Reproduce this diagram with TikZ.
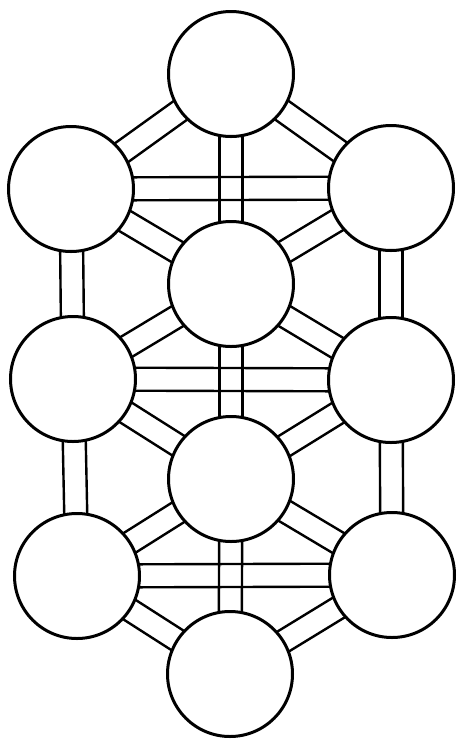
\documentclass[tikz,border=0pt]{standalone}
\usetikzlibrary{calc,backgrounds}
\tikzset{
  sephira/.style={circle, draw=black, fill=white, line width=3pt, minimum size=125pt, inner sep=0pt, outer sep=0pt},
  chanline/.style={draw=black, line width=2.4pt},
}
\newcommand\chan[2]{%
  \draw[chanline] ($(#1)!11.5pt!90:(#2)$) -- ($(#2)!11.5pt!-90:(#1)$);
  \draw[chanline] ($(#1)!11.5pt!-90:(#2)$) -- ($(#2)!11.5pt!90:(#1)$);
}
\begin{document}
\begin{tikzpicture}[x=1pt,y=-1pt]
\useasboundingbox (0,0) rectangle (456,740);
\node[sephira] (k)  at (231,74) {};
\node[sephira] (lu) at (71,189) {};
\node[sephira] (ru) at (391,188) {};
\node[sephira] (t1) at (231,284) {};
\node[sephira] (lm) at (73,379) {};
\node[sephira] (rm) at (391,380) {};
\node[sephira] (t2) at (231,479) {};
\node[sephira] (ll) at (77,576) {};
\node[sephira] (rl) at (392,575) {};
\node[sephira] (m)  at (230,674) {};
\begin{pgfonlayer}{background}
  \fill[white] (0,0) rectangle (456,740);
  \chan{k}{lu}
  \chan{k}{ru}
  \chan{k}{t1}
  \chan{lu}{ru}
  \chan{lu}{t1}
  \chan{ru}{t1}
  \chan{lu}{lm}
  \chan{ru}{rm}
  \chan{t1}{lm}
  \chan{t1}{rm}
  \chan{t1}{t2}
  \chan{lm}{rm}
  \chan{lm}{t2}
  \chan{rm}{t2}
  \chan{lm}{ll}
  \chan{rm}{rl}
  \chan{t2}{ll}
  \chan{t2}{rl}
  \chan{t2}{m}
  \chan{ll}{rl}
  \chan{ll}{m}
  \chan{rl}{m}
\end{pgfonlayer}
\end{tikzpicture}
\end{document}
